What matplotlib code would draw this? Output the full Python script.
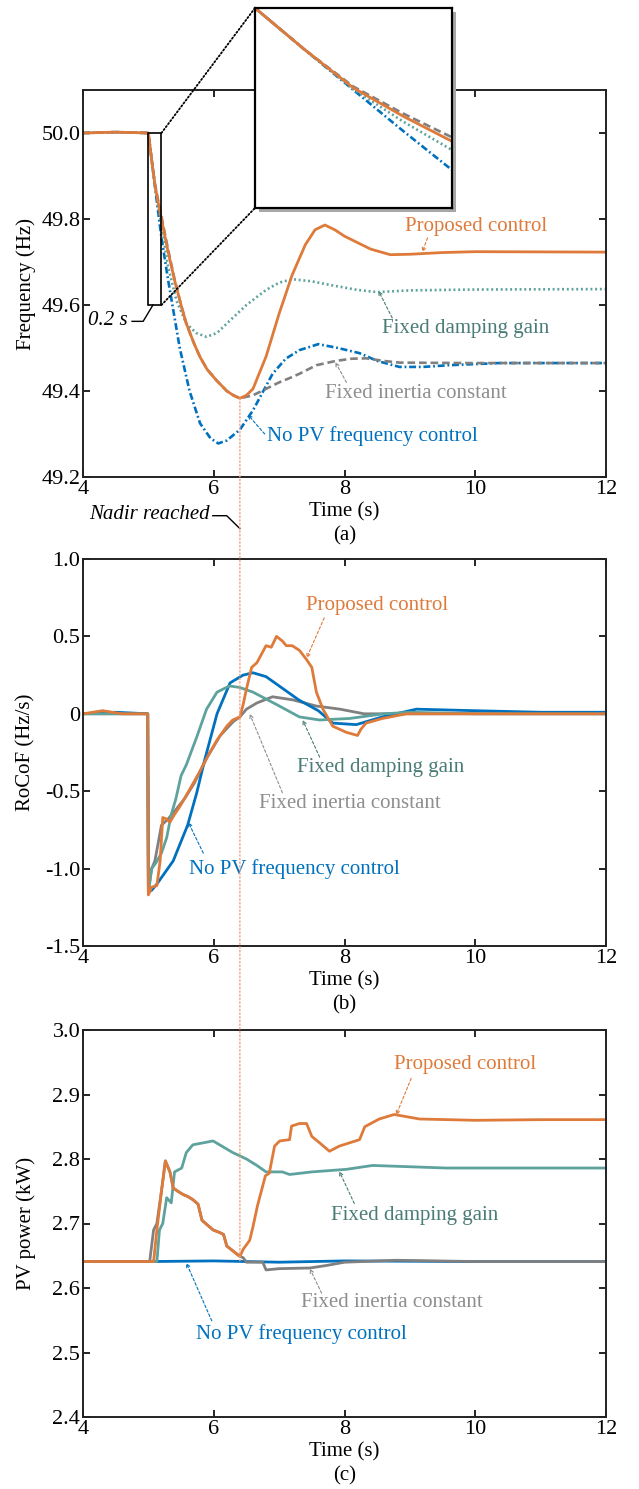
import matplotlib
matplotlib.use("Agg")
import matplotlib.pyplot as plt
from matplotlib.patches import Rectangle, ConnectionPatch

plt.rcParams['font.family'] = ['Liberation Serif', 'DejaVu Serif']
plt.rcParams['axes.unicode_minus'] = False
plt.rcParams['lines.scale_dashes'] = False

C_PROP = "#DE7A3A"
C_DAMP = "#5EA29E"
C_DAMP_TXT = "#4A7C77"
C_INER = "#808080"
C_INER_TXT = "#8E8E8E"
C_NOPV = "#0071BE"
C_NADIR = "#F6A07C"

# ---------------- (a) frequency ----------------
t_f_prop = [4.0, 4.5, 5.0, 5.05, 5.1, 5.15, 5.2, 5.3, 5.4, 5.5, 5.58, 5.7, 5.79, 5.9, 6.04,
            6.2, 6.3, 6.4, 6.5, 6.6, 6.8, 7.0, 7.2, 7.4, 7.55, 7.7, 7.85, 8.0, 8.2, 8.4,
            8.7, 9.0, 9.5, 10.0, 12.0]
f_prop = [50.0, 50.002, 50.0, 49.938, 49.880, 49.838, 49.800, 49.725, 49.658, 49.600, 49.557,
          49.510, 49.479, 49.450, 49.425, 49.400, 49.390, 49.383, 49.390, 49.405, 49.480,
          49.580, 49.670, 49.740, 49.775, 49.786, 49.775, 49.760, 49.745, 49.730, 49.717,
          49.718, 49.722, 49.724, 49.723]

t_f_damp = [4.0, 4.5, 5.0, 5.05, 5.1, 5.15, 5.2, 5.3, 5.43, 5.58, 5.73, 5.89, 6.05, 6.29,
            6.5, 6.8, 7.0, 7.2, 7.5, 7.8, 8.2, 8.5, 9.0, 10.0, 12.0]
f_damp = [50.0, 50.002, 50.0, 49.938, 49.878, 49.830, 49.787, 49.690, 49.610, 49.557, 49.535,
          49.526, 49.535, 49.570, 49.600, 49.635, 49.652, 49.660, 49.655, 49.646, 49.635,
          49.630, 49.634, 49.636, 49.637]

t_f_iner = [4.0, 4.5, 5.0, 5.05, 5.1, 5.15, 5.2, 5.3, 5.4, 5.5, 5.58, 5.7, 5.79, 5.9, 6.04,
            6.2, 6.3, 6.4, 6.6, 6.8, 7.0, 7.16, 7.31, 7.57, 7.87, 8.1, 8.33, 8.6, 8.84,
            9.86, 12.0]
f_iner = [50.0, 50.002, 50.0, 49.938, 49.882, 49.842, 49.806, 49.730, 49.660, 49.600, 49.557,
          49.510, 49.479, 49.450, 49.425, 49.400, 49.390, 49.383, 49.390, 49.405, 49.420,
          49.430, 49.440, 49.460, 49.470, 49.475, 49.476, 49.470, 49.466, 49.465, 49.465]

t_f_nopv = [4.0, 4.5, 5.0, 5.05, 5.1, 5.15, 5.2, 5.3, 5.48, 5.63, 5.79, 5.95, 6.07, 6.2,
            6.4, 6.6, 6.9, 7.1, 7.31, 7.6, 7.9, 8.23, 8.5, 8.84, 9.2, 9.6, 10.37, 12.0]
f_nopv = [50.0, 50.002, 50.0, 49.938, 49.877, 49.816, 49.757, 49.660, 49.500, 49.400, 49.325,
          49.290, 49.278, 49.285, 49.310, 49.355, 49.440, 49.475, 49.495, 49.509, 49.500,
          49.488, 49.470, 49.456, 49.456, 49.460, 49.465, 49.465]

# ---------------- (b) RoCoF ----------------
t_r_prop = [4.0, 4.3, 4.6, 4.99, 5.0, 5.05, 5.13, 5.18, 5.22, 5.28, 5.33, 5.4, 5.48, 5.55,
            5.63, 5.79, 5.9, 6.05, 6.2, 6.29, 6.4, 6.45, 6.5, 6.58, 6.66, 6.8, 6.88, 6.96,
            7.05, 7.11, 7.2, 7.31, 7.42, 7.5, 7.57, 7.67, 7.82, 8.03, 8.2, 8.25, 8.33, 8.58,
            8.95, 10.0, 12.0]
r_prop = [0.0, 0.02, 0.0, 0.0, -1.17, -1.12, -1.11, -0.95, -0.67, -0.68, -0.70, -0.65, -0.60,
          -0.55, -0.49, -0.37, -0.28, -0.17, -0.08, -0.04, -0.02, 0.06, 0.16, 0.30, 0.33,
          0.44, 0.43, 0.50, 0.47, 0.44, 0.44, 0.41, 0.35, 0.30, 0.14, 0.03, -0.08, -0.12,
          -0.14, -0.10, -0.06, -0.03, 0.0, 0.0, 0.0]

t_r_damp = [4.0, 4.99, 5.0, 5.05, 5.12, 5.2, 5.28, 5.35, 5.42, 5.5, 5.58, 5.74, 5.89, 6.05,
            6.24, 6.4, 6.6, 6.96, 7.31, 7.62, 8.08, 8.6, 9.0, 10.0, 12.0]
r_damp = [0.0, 0.0, -1.15, -1.00, -0.96, -0.90, -0.80, -0.65, -0.55, -0.40, -0.33, -0.15,
          0.03, 0.14, 0.18, 0.17, 0.14, 0.06, -0.02, -0.04, -0.03, 0.0, 0.01, 0.0, 0.0]

t_r_iner = [4.0, 4.99, 5.0, 5.05, 5.1, 5.2, 5.3, 5.4, 5.55, 5.7, 5.9, 6.1, 6.3, 6.4, 6.5,
            6.66, 6.9, 7.21, 7.57, 7.93, 8.3, 9.0, 12.0]
r_iner = [0.0, 0.0, -1.15, -1.00, -0.95, -0.72, -0.68, -0.63, -0.55, -0.45, -0.28, -0.14,
          -0.05, -0.02, 0.03, 0.07, 0.11, 0.09, 0.05, 0.03, 0.0, 0.0, 0.0]

t_r_nopv = [4.0, 4.5, 4.99, 5.0, 5.05, 5.13, 5.38, 5.6, 5.74, 5.86, 6.05, 6.25, 6.45, 6.6,
            6.8, 7.1, 7.3, 7.6, 7.82, 8.18, 8.58, 9.1, 10.0, 11.0, 12.0]
r_nopv = [0.0, 0.01, 0.0, -1.15, -1.14, -1.10, -0.95, -0.72, -0.51, -0.30, 0.0, 0.20, 0.25,
          0.265, 0.24, 0.15, 0.09, 0.02, -0.06, -0.07, -0.02, 0.03, 0.02, 0.01, 0.01]

# ---------------- (c) PV power ----------------
t_p_prop = [4.0, 5.08, 5.13, 5.2, 5.26, 5.33, 5.38, 5.45, 5.53, 5.6, 5.68, 5.76, 5.82, 5.99,
            6.09, 6.15, 6.2, 6.3, 6.4, 6.45, 6.55, 6.6, 6.67, 6.73, 6.79, 6.85, 6.93, 7.01,
            7.16, 7.19, 7.31, 7.42, 7.5, 7.62, 7.77, 7.92, 8.23, 8.31, 8.53, 8.76, 9.15,
            10.0, 11.0, 12.0]
p_prop = [2.641, 2.641, 2.690, 2.750, 2.797, 2.780, 2.755, 2.750, 2.745, 2.742, 2.737, 2.730,
          2.705, 2.690, 2.686, 2.683, 2.665, 2.657, 2.649, 2.660, 2.674, 2.695, 2.728, 2.751,
          2.774, 2.778, 2.820, 2.828, 2.830, 2.851, 2.855, 2.855, 2.835, 2.825, 2.812, 2.820,
          2.830, 2.850, 2.862, 2.869, 2.862, 2.860, 2.861, 2.861]

t_p_damp = [4.0, 5.13, 5.17, 5.22, 5.28, 5.35, 5.4, 5.51, 5.58, 5.68, 5.99, 6.09, 6.29, 6.5,
            6.66, 6.8, 7.05, 7.16, 7.5, 8.03, 8.43, 9.56, 12.0]
p_damp = [2.641, 2.641, 2.690, 2.700, 2.740, 2.732, 2.780, 2.786, 2.810, 2.822, 2.828, 2.822,
          2.810, 2.800, 2.790, 2.780, 2.780, 2.776, 2.780, 2.784, 2.790, 2.786, 2.786]

t_p_iner = [4.0, 5.02, 5.08, 5.13, 5.2, 5.26, 5.33, 5.38, 5.45, 5.53, 5.6, 5.68, 5.76, 5.82,
            5.99, 6.09, 6.15, 6.2, 6.3, 6.4, 6.45, 6.5, 6.75, 6.8, 7.0, 7.47, 7.73, 8.0,
            8.79, 10.0, 12.0]
p_iner = [2.641, 2.641, 2.690, 2.700, 2.750, 2.797, 2.780, 2.755, 2.750, 2.745, 2.742, 2.737,
          2.730, 2.705, 2.690, 2.686, 2.683, 2.665, 2.657, 2.649, 2.647, 2.640, 2.640, 2.628,
          2.630, 2.631, 2.635, 2.640, 2.643, 2.641, 2.641]

t_p_nopv = [4.0, 5.0, 6.0, 7.0, 8.0, 10.0, 12.0]
p_nopv = [2.641, 2.641, 2.642, 2.640, 2.642, 2.641, 2.641]

x_ticks = [4, 6, 8, 10, 12]
f_ticks = [49.2, 49.4, 49.6, 49.8, 50.0]
f_ticklabels = ["49.2", "49.4", "49.6", "49.8", "50.0"]
r_ticks = [-1.5, -1.0, -0.5, 0.0, 0.5, 1.0]
r_ticklabels = ["-1.5", "-1.0", "-0.5", "0", "0.5", "1.0"]
p_ticks = [2.4, 2.5, 2.6, 2.7, 2.8, 2.9, 3.0]
p_ticklabels = ["2.4", "2.5", "2.6", "2.7", "2.8", "2.9", "3.0"]

nadir_t = 6.4

fig = plt.figure(figsize=(6.39, 14.89), dpi=100)
L, W, H = 83 / 639, 523 / 639, 387 / 1489
ax1 = fig.add_axes([L, 1 - 477 / 1489, W, H])
ax2 = fig.add_axes([L, 1 - 946 / 1489, W, H])
ax3 = fig.add_axes([L, 1 - 1417 / 1489, W, H])

LW = 1.9
ls_damp = (0, (1.4, 2.0))
ls_iner = (0, (5.5, 2.8))
ls_nopv = (0, (5.0, 2.0, 1.3, 2.0))


def style_axis(ax, yticks, ylabels, ylim, ylabel, xlabel_tag):
    ax.set_xlim(4, 12)
    ax.set_ylim(*ylim)
    ax.set_xticks(x_ticks)
    ax.set_xticklabels([str(v) for v in x_ticks])
    ax.set_yticks(yticks)
    ax.set_yticklabels(ylabels)
    ax.tick_params(direction='in', top=True, right=True, length=5, width=1.2,
                   labelsize=16, pad=2)
    for sp in ax.spines.values():
        sp.set_linewidth(1.4)
        sp.set_color('#222222')
    ax.text(-0.109, 0.5, ylabel, transform=ax.transAxes, rotation=90,
            ha='center', va='center', fontsize=15)
    ax.text(0.5, -0.09, "Time (s)", transform=ax.transAxes,
            ha='center', va='center', fontsize=15)
    ax.text(0.5, -0.152, xlabel_tag, transform=ax.transAxes,
            ha='center', va='center', fontsize=15)


def leader(ax, start, end, color):
    ax.annotate('', xy=end, xytext=start,
                arrowprops=dict(arrowstyle='->', color=color, lw=0.8, linestyle=(0, (2, 1.5)),
                                shrinkA=0, shrinkB=0, mutation_scale=6))


# panel (a)
ax1.plot(t_f_nopv, f_nopv, color=C_NOPV, lw=LW, linestyle=ls_nopv)
ax1.plot(t_f_damp, f_damp, color=C_DAMP, lw=LW, linestyle=ls_damp)
ax1.plot(t_f_iner, f_iner, color=C_INER, lw=LW, linestyle=ls_iner)
ax1.plot(t_f_prop, f_prop, color=C_PROP, lw=2.0)
style_axis(ax1, f_ticks, f_ticklabels, (49.2, 50.1), "Frequency (Hz)", "(a)")
ax1.add_patch(Rectangle((5.0, 49.6), 0.2, 0.4, fill=False, ec='black', lw=1.2, zorder=4))

ax1.text(10.02, 49.782, "Proposed control", color=C_PROP, fontsize=15, ha='center', va='center')
leader(ax1, (9.27, 49.756), (9.19, 49.723), C_PROP)
ax1.text(9.85, 49.546, "Fixed damping gain", color=C_DAMP_TXT, fontsize=15, ha='center', va='center')
leader(ax1, (8.73, 49.57), (8.52, 49.633), C_DAMP_TXT)
ax1.text(9.09, 49.395, "Fixed inertia constant", color=C_INER_TXT, fontsize=15, ha='center', va='center')
leader(ax1, (8.03, 49.42), (7.86, 49.467), C_INER_TXT)
ax1.text(8.43, 49.295, "No PV frequency control", color=C_NOPV, fontsize=15, ha='center', va='center')
leader(ax1, (6.78, 49.30), (6.52, 49.345), C_NOPV)

ax1.text(4.38, 49.565, "0.2 s", fontsize=15, style='italic', ha='center', va='center')
ax1.plot([4.75, 4.92, 5.07], [49.562, 49.562, 49.60], color='black', lw=1.0)

fig.text(149 / 639, 1 - 515 / 1489, "Nadir reached", fontsize=15, style='italic',
         ha='center', va='center')
ax1.plot([5.985, 6.198, nadir_t], [49.110, 49.110, 49.080], color='black', lw=1.0, clip_on=False)

# inset
shadow = Rectangle((259 / 639, 1 - 212 / 1489), 197 / 639, 200 / 1489, transform=fig.transFigure,
                   facecolor='#A8A8A8', edgecolor='none', zorder=3)
fig.add_artist(shadow)
axin = fig.add_axes([255 / 639, 1 - 208 / 1489, 197 / 639, 200 / 1489])
axin.set_zorder(4)
axin.plot(t_f_nopv, f_nopv, color=C_NOPV, lw=LW, linestyle=ls_nopv)
axin.plot(t_f_damp, f_damp, color=C_DAMP, lw=LW, linestyle=ls_damp)
axin.plot(t_f_iner, f_iner, color=C_INER, lw=LW, linestyle=ls_iner)
axin.plot(t_f_prop, f_prop, color=C_PROP, lw=2.0)
axin.set_xlim(5.0, 5.2)
axin.set_ylim(49.7, 50.0)
axin.set_xticks([])
axin.set_yticks([])
for sp in axin.spines.values():
    sp.set_linewidth(1.6)

for (ya, yb) in [(50.0, 1.0), (49.6, 0.0)]:
    con = ConnectionPatch(xyA=(5.2, ya), coordsA=ax1.transData, xyB=(0.0, yb),
                          coordsB=axin.transAxes, color='black', lw=1.3, linestyle=':')
    con.set_zorder(3.5)
    fig.add_artist(con)

# panel (b)
ax2.plot(t_r_iner, r_iner, color=C_INER, lw=2.0)
ax2.plot(t_r_nopv, r_nopv, color=C_NOPV, lw=2.0)
ax2.plot(t_r_damp, r_damp, color=C_DAMP, lw=2.0)
ax2.plot(t_r_prop, r_prop, color=C_PROP, lw=2.0)
style_axis(ax2, r_ticks, r_ticklabels, (-1.5, 1.0), "RoCoF (Hz/s)", "(b)")

ax2.text(8.5, 0.70, "Proposed control", color=C_PROP, fontsize=15, ha='center', va='center')
leader(ax2, (7.69, 0.62), (7.42, 0.36), C_PROP)
ax2.text(8.55, -0.35, "Fixed damping gain", color=C_DAMP_TXT, fontsize=15, ha='center', va='center')
leader(ax2, (7.62, -0.28), (7.36, -0.04), C_DAMP_TXT)
ax2.text(8.08, -0.58, "Fixed inertia constant", color=C_INER_TXT, fontsize=15, ha='center', va='center')
leader(ax2, (7.05, -0.51), (6.55, 0.0), C_INER_TXT)
ax2.text(7.24, -1.0, "No PV frequency control", color=C_NOPV, fontsize=15, ha='center', va='center')
leader(ax2, (5.84, -0.90), (5.61, -0.70), C_NOPV)

# panel (c)
ax3.plot(t_p_nopv, p_nopv, color=C_NOPV, lw=2.0)
ax3.plot(t_p_damp, p_damp, color=C_DAMP, lw=2.0)
ax3.plot(t_p_iner, p_iner, color=C_INER, lw=2.0)
ax3.plot(t_p_prop, p_prop, color=C_PROP, lw=2.0)
style_axis(ax3, p_ticks, p_ticklabels, (2.4, 3.0), "PV power (kW)", "(c)")

ax3.text(9.85, 2.946, "Proposed control", color=C_PROP, fontsize=15, ha='center', va='center')
leader(ax3, (9.02, 2.925), (8.79, 2.868), C_PROP)
ax3.text(9.07, 2.712, "Fixed damping gain", color=C_DAMP_TXT, fontsize=15, ha='center', va='center')
leader(ax3, (8.15, 2.731), (7.92, 2.781), C_DAMP_TXT)
ax3.text(8.72, 2.577, "Fixed inertia constant", color=C_INER_TXT, fontsize=15, ha='center', va='center')
leader(ax3, (7.65, 2.592), (7.47, 2.630), C_INER_TXT)
ax3.text(7.34, 2.528, "No PV frequency control", color=C_NOPV, fontsize=15, ha='center', va='center')
leader(ax3, (5.97, 2.549), (5.58, 2.639), C_NOPV)

# nadir marker line across all panels
nadir = ConnectionPatch(xyA=(nadir_t, min(f_prop)), coordsA=ax1.transData,
                        xyB=(nadir_t, min(p_prop)), coordsB=ax3.transData,
                        color=C_NADIR, lw=1.0, linestyle=':')
nadir.set_zorder(6)
fig.add_artist(nadir)

fig.savefig("out.png", dpi=100)
